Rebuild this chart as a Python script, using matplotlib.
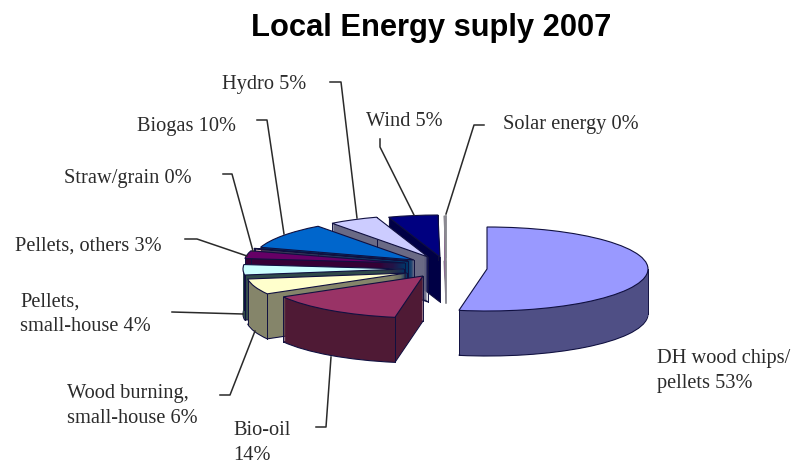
import matplotlib
matplotlib.use("Agg")
import matplotlib.pyplot as plt
import numpy as np

title = "Local Energy suply 2007"
labels = ["DH wood chips/\npellets 53%", "Bio-oil\n14%", "Wood burning,\nsmall-house 6%",
          "Pellets,\nsmall-house 4%", "Pellets, others 3%", "Straw/grain 0%", "Biogas 10%",
          "Hydro 5%", "Wind 5%", "Solar energy 0%"]
values = [53, 14, 6, 4, 3, 0.2, 10, 5, 5, 0.2]
top_colors = ["#9999FF", "#993366", "#FFFFCC", "#CCFFFF", "#660066", "#FF8080", "#0066CC", "#CCCCFF", "#000080", "#9A8AA0"]
side_colors = ["#4F4F85", "#4F1A35", "#85856A", "#2F4A4A", "#350035", "#854040", "#003569", "#6A6A85", "#000045", "#8A6A90"]

# slice apex positions in image pixels
apex_x = [487, 423, 407, 404, 405, 408, 414, 428, 440, 446]
apex_y = [270, 277, 274, 270, 264, 262, 261, 258, 258, 259]
RX, RY, DEPTH = 161, 42, 45
draw_order = [8, 9, 7, 6, 5, 4, 3, 2, 1, 0]

label_x = [657, 233, 67, 20, 15, 64, 137, 222, 366, 503]
label_y = [371, 443, 406, 314, 246, 179, 127, 85, 121, 125]
leaders = [None,
           [(316, 428), (326, 428), (331, 358)],
           [(220, 396), (230, 396), (255, 332)],
           [(172, 313), (243, 315)],
           [(185, 240), (197, 240), (247, 257)],
           [(223, 175), (232, 175), (253, 252)],
           [(257, 121), (267, 121), (284, 235)],
           [(330, 83), (341, 83), (357, 219)],
           [(380, 140), (380, 148), (414, 216)],
           [(484, 126), (474, 126), (446, 215)]]

W, H = 800, 464
fig = plt.figure(figsize=(W / 100, H / 100), dpi=100, facecolor="white")
ax = fig.add_axes([0, 0, 1, 1])
ov = fig.add_axes([0, 0, 1, 1])
ov.set_xlim(0, W); ov.set_ylim(H, 0); ov.axis("off"); ov.patch.set_alpha(0)

SCALE = RX / RY


def to_y(py):
    return (H - py) * SCALE


rank = {s: i for i, s in enumerate(draw_order)}
theta = 90 - np.cumsum([0] + values) / sum(values) * 360
for layer in range(DEPTH + 1):
    dz = DEPTH - layer
    wedges, _ = ax.pie(values, radius=RX, startangle=90, counterclock=False)
    for i, w in enumerate(wedges):
        w.set_center((apex_x[i], to_y(apex_y[i] + dz)))
        is_top = dz == 0
        w.set_facecolor(top_colors[i] if is_top else side_colors[i])
        if is_top or dz == DEPTH:
            w.set_edgecolor("#8A8A90" if i == 9 else "#101040")
            w.set_linewidth(0.8)
        else:
            w.set_edgecolor("none")
            w.set_linewidth(0)
        w.set_zorder(rank[i] * 1000 + layer + 5)

# vertical edges of each extruded slice: above its sides, beneath its own top
for i in range(len(values) - 1):
    z = rank[i] * 1000 + DEPTH + 4
    for a in (np.radians(theta[i]), np.radians(theta[i + 1])):
        ex = apex_x[i] + RX * np.cos(a)
        ey = apex_y[i] - RY * np.sin(a)
        ax.plot([ex, ex], [to_y(ey), to_y(ey + DEPTH)], color="#101040", lw=0.7, zorder=z)
    if i == 0:
        ex = apex_x[i] + RX
        ax.plot([ex, ex], [to_y(apex_y[i]), to_y(apex_y[i] + DEPTH)], color="#101040", lw=0.7, zorder=z)
    else:
        ax.plot([apex_x[i], apex_x[i]], [to_y(apex_y[i]), to_y(apex_y[i] + DEPTH)], color="#101040", lw=0.7, zorder=z)

# the nearly empty last slice reads as one thin line from rim to base
s = len(values) - 1
ax.plot([apex_x[s], apex_x[s]], [to_y(apex_y[s] - RY), to_y(apex_y[s] + DEPTH)],
        color="#8A8A90", lw=1.2, zorder=rank[s] * 1000 + DEPTH + 6)

ax.set_xlim(0, W)
ax.set_ylim(0, H * SCALE)
ax.set_aspect("auto")
ax.axis("off")

serif = "Liberation Serif"
ov.text(431, 28, title, ha="center", va="center", family="Liberation Sans", weight="bold",
        fontsize=22.2, color="black")
for t, x, y in zip(labels, label_x, label_y):
    ov.text(x, y, t, ha="left", va="center", family=serif, fontsize=14.7, color="#2b2b2b", linespacing=1.38)
for path in leaders:
    if path is None:
        continue
    xs, ys = zip(*path)
    ov.plot(xs, ys, color="#2a2a2a", lw=1.1)

fig.savefig("out.png", dpi=100, facecolor="white")
